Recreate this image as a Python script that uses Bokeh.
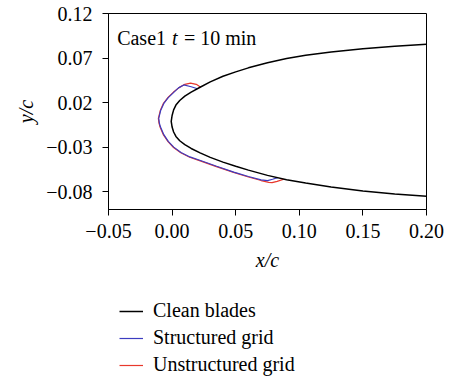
from bokeh.plotting import figure
from bokeh.layouts import column
from bokeh.models import Range1d, FixedTicker, Legend, LegendItem, Label
from bokeh.embed import file_html
from bokeh.resources import INLINE

# ---- data ----
clean_x = [0.200, 0.175, 0.150, 0.125, 0.105, 0.090, 0.075, 0.060, 0.050, 0.040, 0.030, 0.022, 0.015, 0.010, 0.006, 0.003, 0.0012, 0.0, -0.0007,
           0.0, 0.0012, 0.003, 0.006, 0.010, 0.015, 0.022, 0.030, 0.040, 0.050, 0.060, 0.075, 0.090, 0.105, 0.125, 0.150, 0.175, 0.200]
clean_y = [0.0855, 0.0832, 0.0804, 0.0769, 0.0731, 0.0694, 0.0647, 0.0590, 0.0545, 0.0495, 0.0432, 0.0372, 0.0318, 0.0272, 0.0224, 0.0172, 0.0118, 0.0055, -0.0010,
           -0.0075, -0.0130, -0.0180, -0.0228, -0.0272, -0.0315, -0.0365, -0.0415, -0.0468, -0.0515, -0.0558, -0.0617, -0.0665, -0.0703, -0.0748, -0.0792, -0.0825, -0.0850]

struct_x = [0.0200, 0.0150, 0.0092, 0.0050, 0.0013, -0.0030, -0.0065, -0.0090, -0.0105, -0.0100, -0.0091, -0.0065,
            -0.0030, 0.0013, 0.0070, 0.0140, 0.0223, 0.0350, 0.0485, 0.0600, 0.0700, 0.0750, 0.0790, 0.0830]
struct_y = [0.0355, 0.0378, 0.0398, 0.0365, 0.0315, 0.0255, 0.0190, 0.0110, 0.0023, -0.0030, -0.0075, -0.0160,
            -0.0235, -0.0300, -0.0360, -0.0410, -0.0450, -0.0515, -0.0580, -0.0630, -0.0668, -0.0675, -0.0660, -0.0643]

unstr_x = [0.0225, 0.0190, 0.0145, 0.0100, 0.0055, 0.0011, -0.0032, -0.0068, -0.0093, -0.0108, -0.0103, -0.0094, -0.0068,
           -0.0032, 0.0011, 0.0068, 0.0138, 0.0221, 0.0348, 0.0483, 0.0600, 0.0700, 0.0760, 0.0786, 0.0826, 0.0878]
unstr_y = [0.0372, 0.0405, 0.0418, 0.0405, 0.0368, 0.0318, 0.0258, 0.0192, 0.0111, 0.0023, -0.0030, -0.0077, -0.0163,
           -0.0239, -0.0304, -0.0364, -0.0414, -0.0454, -0.0519, -0.0584, -0.0635, -0.0675, -0.0695, -0.0699, -0.0685, -0.0660]

x_ticks = [-0.05, 0.0, 0.05, 0.10, 0.15, 0.20]
x_tick_labels = ["\u22120.05", "0.00", "0.05", "0.10", "0.15", "0.20"]
y_ticks = [-0.08, -0.03, 0.02, 0.07, 0.12]
y_tick_labels = ["\u22120.08", "\u22120.03", "0.02", "0.07", "0.12"]

series_labels = ["Clean blades", "Structured grid", "Unstructured grid"]
series_colors = ["black", "#3c3cc0", "#e8382c"]
series_widths = [1.5, 1.2, 1.2]

FONT = "Liberation Serif"

p = figure(width=444, height=290, output_backend="svg", toolbar_location=None,
           x_range=Range1d(-0.05, 0.20), y_range=Range1d(-0.10, 0.12),
           min_border_left=108, min_border_right=18, min_border_top=13, min_border_bottom=81)
p.background_fill_color = "white"
p.border_fill_color = "white"
p.grid.visible = False
p.outline_line_color = "black"
p.outline_line_width = 1

p.line(unstr_x, unstr_y, line_color=series_colors[2], line_width=series_widths[2])
p.line(struct_x, struct_y, line_color=series_colors[1], line_width=series_widths[1])
p.line(clean_x, clean_y, line_color=series_colors[0], line_width=series_widths[0])

for ax, ticks, labels in ((p.xaxis[0], x_ticks, x_tick_labels), (p.yaxis[0], y_ticks, y_tick_labels)):
    ax.ticker = FixedTicker(ticks=ticks)
    ax.major_label_overrides = {t: l for t, l in zip(ticks, labels)}
    ax.minor_tick_line_color = None
    ax.major_tick_in = 0
    ax.major_tick_out = 6
    ax.major_tick_line_color = "black"
    ax.axis_line_color = "black"
    ax.major_label_text_font = FONT
    ax.major_label_text_font_size = "20px"
    ax.major_label_text_color = "black"
    ax.axis_label_text_font = FONT
    ax.axis_label_text_font_size = "20px"
    ax.axis_label_text_font_style = "italic"
    ax.axis_label_text_color = "black"

p.xaxis[0].axis_label = "x/c"
p.yaxis[0].axis_label = "y/c"
p.xaxis[0].major_label_standoff = 8
p.xaxis[0].axis_label_standoff = 8
p.yaxis[0].major_label_standoff = 10
p.yaxis[0].axis_label_standoff = 6

# annotation text
for txt, xx, style in (("Case1", -0.0432, "normal"), ("t", 0.0, "italic"), ("= 10 min", 0.0093, "normal")):
    p.add_layout(Label(x=xx, y=0.092, text=txt, text_font=FONT, text_font_size="20px",
                       text_font_style=style, text_baseline="middle", text_color="black"))

# legend area below the plot (legend-only renderers drawn outside the visible range)
q = figure(width=444, height=86, output_backend="svg", toolbar_location=None,
           x_axis_type=None, y_axis_type=None, x_range=Range1d(0, 1), y_range=Range1d(0, 1),
           min_border_left=0, min_border_right=0, min_border_top=0, min_border_bottom=0)
q.outline_line_color = None
q.grid.visible = False
q.background_fill_color = "white"
q.border_fill_color = "white"
items = []
for lab, col, lw in zip(series_labels, series_colors, series_widths):
    r = q.line([5, 6], [5, 6], line_color=col, line_width=lw)
    items.append(LegendItem(label=lab, renderers=[r]))

legend = Legend(items=items, location=(11, 0))
legend.border_line_color = None
legend.background_fill_alpha = 0
legend.padding = 0
legend.margin = 0
legend.spacing = 4
legend.label_height = 22
legend.glyph_height = 22
legend.glyph_width = 24
legend.label_standoff = 10
legend.label_text_font = FONT
legend.label_text_font_size = "20px"
legend.label_text_color = "black"
q.add_layout(legend, "center")

open("out.html", "w").write(file_html(column(p, q, spacing=0), INLINE))
